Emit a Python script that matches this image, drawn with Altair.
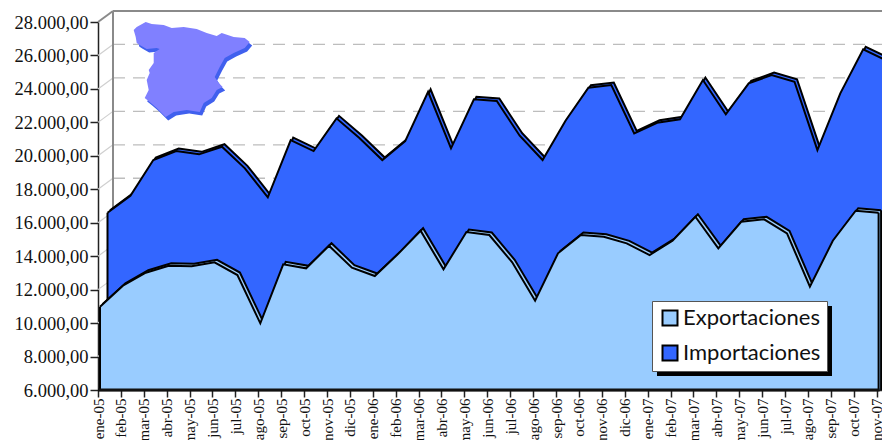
import altair as alt
import pandas as pd

months = ["ene-05","feb-05","mar-05","abr-05","may-05","jun-05","jul-05","ago-05","sep-05","oct-05","nov-05","dic-05",
          "ene-06","feb-06","mar-06","abr-06","may-06","jun-06","jul-06","ago-06","sep-06","oct-06","nov-06","dic-06",
          "ene-07","feb-07","mar-07","abr-07","may-07","jun-07","jul-07","ago-07","sep-07","oct-07","nov-07"]
exportaciones = [10979,12234,13011,13429,13394,13633,12874,9987,13513,13274,14625,13310,
                 12814,14111,15521,13214,15444,15264,13633,11337,14171,15264,15163,14768,
                 14069,14924,16358,14469,16059,16203,15366,12174,14924,16717,16597]
importaciones = [16597,17613,19747,20285,20088,20542,19251,17518,20943,20285,22239,21062,
                 19747,20883,23830,20446,23375,23274,21200,19747,22096,24068,24230,21343,
                 21976,22180,24529,22479,24331,24828,24427,20345,23734,26363,25706]
y_ticks = list(range(6000, 28001, 2000))
grid_vals = list(range(8000, 26001, 2000))

PX_X = 1 / 22.9       # index units per pixel
PX_Y = 1000 / 16.73   # value units per pixel
X_MAX = 784 * PX_X

label_list = "[" + ",".join(f"'{m}'" for m in months) + "]"
x_axis = alt.Axis(values=list(range(35)), labelExpr=f"{label_list}[datum.value]", labelAngle=270,
                  labelAlign="right", labelBaseline="middle", labelFont="Liberation Serif", labelFontSize=15,
                  labelColor="#111", labelOverlap=False, labelPadding=1, tickSize=7, tickColor="#222", tickWidth=1.5,
                  domainColor="#222", domainWidth=1.5, grid=False, labelBound=False, labelFlush=False)
y_axis = alt.Axis(values=y_ticks,
                  labelExpr="replace(format(datum.value, ',.0f'), ',', '.') + ',00'",
                  labelFont="Liberation Serif", labelFontSize=18.5, labelColor="#111", labelPadding=2,
                  labelOverlap=False, labelBound=False, labelFlush=False,
                  tickSize=8, tickColor="#222", tickWidth=1.5, domainColor="#222", domainWidth=1.5, grid=False)

xs = alt.Scale(domain=[0, X_MAX], nice=False, zero=False)
ys = alt.Scale(domain=[6000, 28000], nice=False, zero=False)
def X(f="x"):
    return alt.X(f"{f}:Q", scale=xs, title=None, axis=x_axis)
def Y(f="y"):
    return alt.Y(f"{f}:Q", scale=ys, title=None, axis=y_axis)

# back wall
WALL_X = 15 * PX_X
WALL_Y = 11 * PX_Y
wall = pd.DataFrame({"x": [0, WALL_X, WALL_X], "x2": [WALL_X, WALL_X, X_MAX],
                     "y": [28000, 28000 + WALL_Y, 28000 + WALL_Y], "y2": [28000 + WALL_Y, 6000, 28000 + WALL_Y]})
grid = pd.DataFrame({"x": WALL_X, "x2": X_MAX, "y": [v + WALL_Y for v in grid_vals]})
diag = pd.DataFrame({"x": 0.0, "x2": WALL_X, "y": grid_vals, "y2": [v + WALL_Y for v in grid_vals]})
base_layers = [
    alt.Chart(diag).mark_rule(color="#cfcfcf", strokeWidth=1.2).encode(X(), alt.X2("x2:Q"), Y(), alt.Y2("y2:Q")),
    alt.Chart(grid).mark_rule(color="#bdbdbd", strokeWidth=1.3, strokeDash=[12, 8]).encode(X(), alt.X2("x2:Q"), Y()),
    alt.Chart(wall).mark_rule(color="#8a8a8a", strokeWidth=2).encode(X(), alt.X2("x2:Q"), Y(), alt.Y2("y2:Q")),
]

legend = alt.Legend(orient="none", legendX=554, legendY=279, fillColor="#fff", strokeColor="#555", padding=6,
                    symbolType="square", symbolSize=225, symbolStrokeColor="#000", symbolStrokeWidth=2,
                    symbolOffset=1, labelFont="Lato", labelFontSize=22, labelColor="#111", rowPadding=11,
                    labelOffset=2, labelLimit=200, symbolOpacity=1, zindex=1)

def series(name, values, dx_px, ridge_x=2.5, ridge_y=2.5):
    df = pd.DataFrame({"serie": name,
                       "x": [i + dx_px * PX_X for i in range(len(values))],
                       "xb": [i + (dx_px + ridge_x) * PX_X for i in range(len(values))],
                       "y": values,
                       "yb": [v + ridge_y * PX_Y for v in values],
                       "base": 6000})
    color = alt.Color("serie:N", title=None, scale=alt.Scale(domain=["Exportaciones", "Importaciones"],
                                                             range=["#99ccff", "#3366ff"]), legend=legend)
    fill = {"Exportaciones": "#99ccff", "Importaciones": "#3366ff"}[name]
    edge = df.iloc[[0, -1]]
    return [
        alt.Chart(df).mark_area(color=fill, opacity=1).encode(X("xb"), Y("yb"), alt.Y2("base:Q")),
        alt.Chart(df).mark_line(color="#000", strokeWidth=2).encode(X("xb"), Y("yb")),
        alt.Chart(df).mark_area(opacity=1).encode(X(), Y(), alt.Y2("base:Q"), color=color),
        alt.Chart(df).mark_line(color="#000", strokeWidth=2).encode(X(), Y()),
        alt.Chart(edge).mark_rule(color="#000", strokeWidth=2).encode(X(), Y(), alt.Y2("base:Q")),
        alt.Chart(edge.iloc[[1]]).mark_rule(color="#000", strokeWidth=2).encode(X("xb"), Y("yb"), alt.Y2("base:Q")),
    ]

floor = pd.DataFrame({"x": [0.0], "x2": [34 + 3 * PX_X], "y": [6000]})
floor_rule = alt.Chart(floor).mark_rule(color="#111", strokeWidth=3).encode(X(), alt.X2("x2:Q"), Y())

spain = ("M-58 -40 L-55 -43 L-46 -48 L-40 -46 L-28 -45 L-20 -42 L-8 -43 L5 -41 L15 -37 L25 -34 L30 -37 L42 -33 "
         "L53 -32 L58 -28 L53 -22 L42 -17 L33 -12 L28 -3 L23 7 L27 13 L31 17 L25 20 L20 28 L12 33 L8 42 L-5 40 "
         "L-18 42 L-26 47 L-35 38 L-42 32 L-47 28 L-43 20 L-45 10 L-42 3 L-43 0 L-38 -7 L-38 -17 L-32 -21 L-35 -22 "
         "L-45 -21 L-52 -25 L-55 -27 L-56 -33 Z")
spain_shadow = alt.Chart(pd.DataFrame({"a": [0]})).mark_point(shape=spain, size=4, filled=True, color="#4060ee", opacity=1).encode(
    x=alt.value(96.2), y=alt.value(51.5))
spain_main = alt.Chart(pd.DataFrame({"a": [0]})).mark_point(shape=spain, size=4, filled=True, color="#8080ff", opacity=1).encode(
    x=alt.value(93.7), y=alt.value(48))

shadow = alt.Chart(pd.DataFrame({"a": [0]})).mark_rect(color="#000").encode(
    x=alt.value(559), x2=alt.value(734), y=alt.value(284), y2=alt.value(354))

chart = alt.layer(
    *base_layers,
    spain_shadow, spain_main,
    *series("Importaciones", importaciones, 9.5),
    *series("Exportaciones", exportaciones, 2),
    floor_rule,
    shadow,
).properties(
    width=784, height=368,
    autosize=alt.AutoSizeParams(type="none"),
    padding={"left": 90, "top": 14, "right": 0, "bottom": 50},
).configure_view(stroke=None)

chart.save("out.html", embed_options={"renderer": "svg", "actions": False})
